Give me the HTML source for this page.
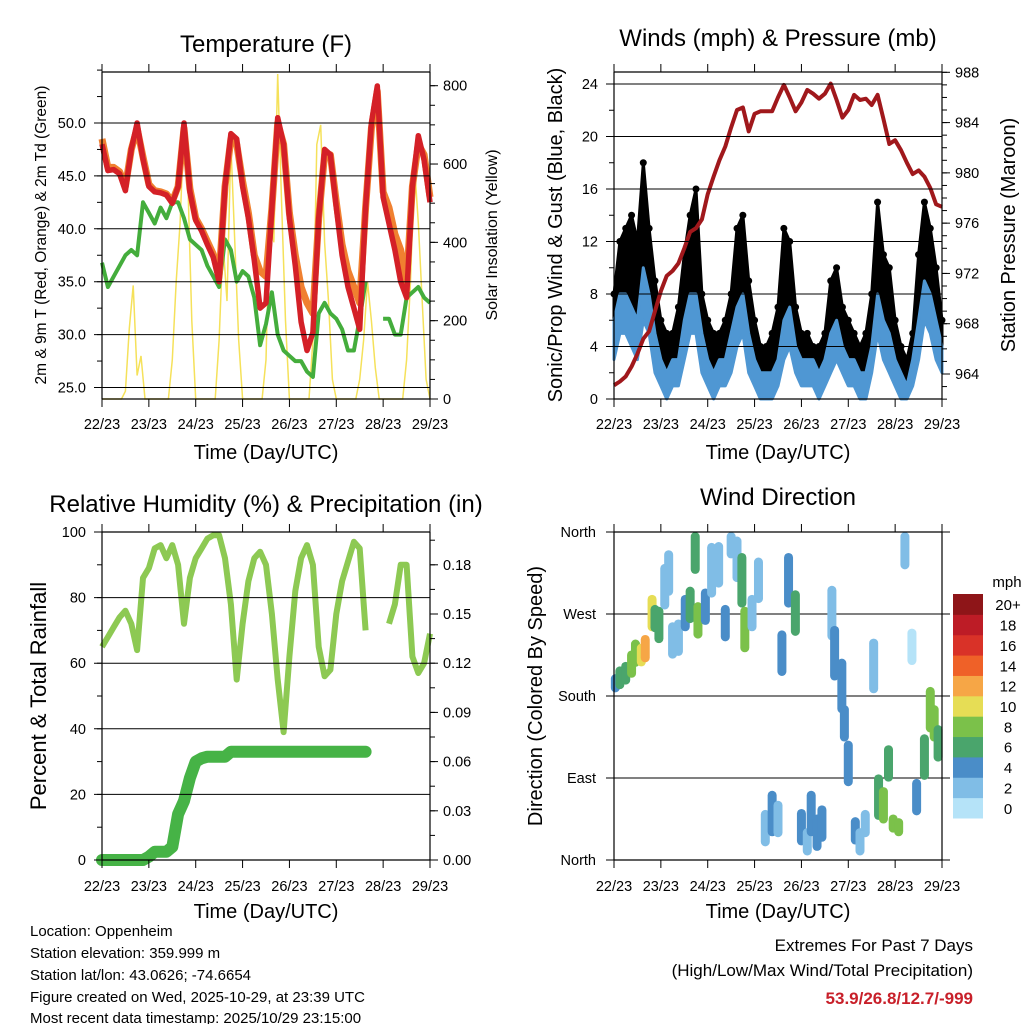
<!DOCTYPE html>
<html><head><meta charset="utf-8"><style>
html,body{margin:0;padding:0;background:#fff;}
svg{display:block;font-family:"Liberation Sans",Arial,sans-serif;}
</style></head><body>
<svg id="fig" width="1024" height="1024" viewBox="0 0 1024 1024" xmlns="http://www.w3.org/2000/svg">
<rect width="1024" height="1024" fill="#fff"/>
<text x="266" y="52" font-size="24" text-anchor="middle">Temperature (F)</text>
<text x="778" y="46" font-size="24" text-anchor="middle">Winds (mph) &amp; Pressure (mb)</text>
<text x="266" y="512" font-size="24" text-anchor="middle">Relative Humidity (%) &amp; Precipitation (in)</text>
<text x="778" y="505" font-size="24" text-anchor="middle">Wind Direction</text>
<text transform="translate(46,235) rotate(-90)" font-size="15.5" text-anchor="middle">2m &amp; 9m T (Red, Orange) &amp; 2m Td (Green)</text>
<text transform="translate(497,235) rotate(-90)" font-size="16" text-anchor="middle">Solar Insolation (Yellow)</text>
<text transform="translate(562,235) rotate(-90)" font-size="20" text-anchor="middle">Sonic/Prop Wind &amp; Gust (Blue, Black)</text>
<text transform="translate(1015,235) rotate(-90)" font-size="20" text-anchor="middle">Station Pressure (Maroon)</text>
<text transform="translate(46,696) rotate(-90)" font-size="22" text-anchor="middle">Percent &amp; Total Rainfall</text>
<text transform="translate(542,696) rotate(-90)" font-size="20" text-anchor="middle">Direction (Colored By Speed)</text>
<text x="266" y="459" font-size="20" text-anchor="middle">Time (Day/UTC)</text>
<text x="778" y="459" font-size="20" text-anchor="middle">Time (Day/UTC)</text>
<text x="266" y="918" font-size="20" text-anchor="middle">Time (Day/UTC)</text>
<text x="778" y="918" font-size="20" text-anchor="middle">Time (Day/UTC)</text>
<g font-size="15">
<text x="30" y="936">Location: Oppenheim</text>
<text x="30" y="958">Station elevation: 359.999 m</text>
<text x="30" y="980">Station lat/lon: 43.0626; -74.6654</text>
<text x="30" y="1002">Figure created on Wed, 2025-10-29, at 23:39 UTC</text>
<text x="30" y="1023">Most recent data timestamp: 2025/10/29 23:15:00</text>
</g>
<text x="973" y="951" font-size="17" text-anchor="end">Extremes For Past 7 Days</text>
<text x="973" y="976" font-size="17" text-anchor="end">(High/Low/Max Wind/Total Precipitation)</text>
<text x="973" y="1004" font-size="17" font-weight="bold" fill="#c8202a" text-anchor="end">53.9/26.8/12.7/-999</text>
</svg>
<script>
// ---- data (3-hourly unless stated; hours since 22/23) ----
var dayLabels = ["22/23","23/23","24/23","25/23","26/23","27/23","28/23","29/23"];
var hours3 = [0,3,6,9,12,15,18,21,24,27,30,33,36,39,42,45,48,51,54,57,60,63,66,69,72,75,78,81,84,87,90,93,96,99,102,105,108,111,114,117,120,123,126,129,132,135,138,141,144,147,150,153,156,159,162,165,168];
var temp2m = [48,45.5,45.6,45.2,43.6,47.5,50,46.6,44,43.5,43.4,43.2,42.4,44,50,43.5,40.8,39.8,38.5,37.3,35,44,49,48.5,44,41,37,32.5,33,42,50.5,48,41,36.5,31.2,28.5,30.2,41,47.5,47,42,37.5,34.5,32.5,30.5,42,50,53.5,43,40.5,38,35,33.5,44,48.8,46.5,42.5];
var temp9m = [48.5,45.8,45.8,45.4,44,47.5,49.5,46.8,44.2,43.6,43.5,43.3,42.6,44,49.5,43.8,41,40,38.8,37.6,35.5,44,48.5,48,44.5,41.5,37.5,36,35.5,42,50,48,41.5,37.5,34.5,33,32,41,47,47,42.5,38.5,36,34.5,33,42,49.5,53,43.5,42,39.5,38,35,44,48,47,43];
var dewpt = [36.8,34.5,35.5,36.5,37.5,38,37.5,42.5,41.5,40.5,42,41,42.5,42.5,41,39,38.5,38,36.5,35.5,34.5,39,38,35,36,35.5,33.5,29,31,34,30,28.5,28,27.5,27.5,26.5,26,32,33,32,31.5,30.5,28.5,28.5,31.5,35,null,null,31.5,31.5,30,30,33.5,34,34.5,33.5,33];
var hours2 = [0,2,4,6,8,10,12,14,16,18,20,22,24,26,28,30,32,34,36,38,40,42,44,46,48,50,52,54,56,58,60,62,64,66,68,70,72,74,76,78,80,82,84,86,88,90,92,94,96,98,100,102,104,106,108,110,112,114,116,118,120,122,124,126,128,130,132,134,136,138,140,142,144,146,148,150,152,154,156,158,160,162,164,166,168];
var solar = [0,0,0,0,0,0,20,180,290,60,110,0,0,0,0,0,0,0,100,300,450,700,550,200,0,0,0,0,0,0,150,400,250,650,400,150,0,0,0,0,0,0,100,500,400,830,500,200,0,0,0,0,0,0,150,650,700,400,250,50,0,0,0,0,0,0,50,150,300,200,80,0,0,0,0,0,0,0,100,300,600,450,250,50,0];
var windLow = [3,5,5,4,3,6,5,2,1,0,1,1,3,5,5,2,1,0,1,1,2,4,5,2,1,0,0,0,1,3,4,2,1,1,1,0,1,2,3,2,1,1,0,0,2,5,3,2,1,0,0,1,3,6,5,3,2];
var windSpeed = [6,8,8,7,6,10,8,5,3,2,3,3,6,8,8,5,3,2,3,3,5,7,8,5,3,2,2,2,3,6,7,4,3,3,3,2,3,5,6,4,3,3,2,2,4,8,6,5,3,2,1,3,6,9,8,6,4];
var windGust = [8,12,13,14,12,18,13,9,6,5,5,7,11,14,16,8,6,5,5,6,8,13,14,9,6,4,4,5,7,13,12,7,5,5,4,4,5,9,10,7,6,5,4,5,8,15,11,10,6,4,3,5,11,15,13,10,6];
var pressure = [963.1,963.4,963.8,964.6,965.6,966.8,967.4,969,970.6,971.8,972.2,972.8,974,975.3,975.6,976.3,978.3,979.7,981,982.1,983.6,985,985.2,983.3,984.7,984.9,984.9,984.9,986,987,986,984.9,985.6,986.6,986.3,985.9,986.3,987.1,985.8,984.4,985,986.2,985.8,985.9,985.4,986.2,984.3,982.3,982.6,981.8,980.8,979.9,980.2,979.7,978.8,977.5,977.3];
var rh = [65,68,71,74,76,72,64,86,89,95,96,92,96,90,72,86,92,95,98,99,99,92,78,55,72,85,92,94,90,75,55,39,62,82,92,96,90,65,56,58,75,85,91,97,95,70,null,null,null,72,78,90,90,62,57,60,69];
var precip = [0,0,0,0,0,0,0,0,0.002,0.005,0.005,0.005,0.008,0.028,0.036,0.05,0.06,0.062,0.063,0.063,0.063,0.063,0.066,0.066,0.066,0.066,0.066,0.066,0.066,0.066,0.066,0.066,0.066,0.066,0.066,0.066,0.066,0.066,0.066,0.066,0.066,0.066,0.066,0.066,0.066,0.066,null,null,null,null,null,null,null,null,null,null,null];
var dirHours = [0.7,3,6,9,11,14,16,19.5,21,23,26,28,30,33,36.5,39,41.6,43,46.8,50,53.6,57,60,63,65.5,67,70.7,74,77.5,81,84,86,89.4,92.9,96,99,101,104,106.5,111.6,113,116.7,118,120,123.6,126,128.7,133,135.5,138,140.6,143,145.8,149,152.6,155,159,162,164,166];
var dirDeg = [194,200,205,215,227,225,232,271,265,258,300,315,241,244,271,280,344,263,278,318,324,260,351,330,307,253,271,307,35,51,45,227,307,271,36,20,51,30,40,271,227,191,150,106,32,20,40,213,69,60,106,40,36,344,234,69,113,165,150,128];
var dirSpread = [20,25,25,30,30,25,30,40,30,40,50,50,40,40,40,40,60,40,40,60,50,40,40,50,60,50,40,50,40,50,40,50,60,50,40,30,50,40,40,60,60,60,40,50,30,30,30,60,50,40,40,20,20,50,40,40,50,50,40,40];
var dirSpeed = [4,7,7,8,8,10,12,10,6,6,2,2,2,2,4,6,6,8,4,2,2,4,2,2,6,8,2,2,2,4,2,4,4,6,4,2,4,4,4,2,4,4,4,4,4,2,2,2,6,8,6,8,8,2,0,4,6,8,8,6];
var cbLabels = ["0","2","4","6","8","10","12","14","16","18","20+"];
var cbColors = ["#b5e3f8","#80bde6","#4a8dc8","#4aa56c","#7bc14a","#e6dd55","#f6a646","#ef6128","#d93228","#bd1c26","#8e1518"];

var NS="http://www.w3.org/2000/svg", svg=document.getElementById('fig');
function mk(tag,attrs,parent){var e=document.createElementNS(NS,tag);for(var k in attrs)e.setAttribute(k,attrs[k]);(parent||svg).appendChild(e);return e;}
function lin(d0,d1,r0,r1){return function(v){return r0+(v-d0)/(d1-d0)*(r1-r0);};}
function pathFrom(xs,ys,fx,fy){var d="",pen=false;for(var i=0;i<xs.length;i++){if(ys[i]===null){pen=false;continue;}d+=(pen?"L":"M")+fx(xs[i]).toFixed(1)+","+fy(ys[i]).toFixed(1);pen=true;}return d;}
function bandFrom(xs,lo,hi,fx,fy){var d="";for(var i=0;i<xs.length;i++)d+=(i?"L":"M")+fx(xs[i]).toFixed(1)+","+fy(hi[i]).toFixed(1);for(var j=xs.length-1;j>=0;j--)d+="L"+fx(xs[j]).toFixed(1)+","+fy(lo[j]).toFixed(1);return d+"Z";}

function frame(g,x0,x1,y0,y1,sx,tickY){
  mk('line',{x1:x0,y1:y0,x2:x1,y2:y0,stroke:'#000','stroke-width':1.2},g);
  mk('line',{x1:x0,y1:y0,x2:x0,y2:y1,stroke:'#000','stroke-width':1.2},g);
  mk('line',{x1:x1,y1:y0,x2:x1,y2:y1,stroke:'#000','stroke-width':1.2},g);
  mk('line',{x1:x0,y1:y1,x2:x1,y2:y1,stroke:'#000','stroke-width':1.2},g);
  for(var i=0;i<dayLabels.length;i++){
    var x=sx(i*24);
    mk('line',{x1:x,y1:y0,x2:x,y2:y0-8,stroke:'#000','stroke-width':1},g);
    mk('line',{x1:x,y1:y1,x2:x,y2:y1+8,stroke:'#000','stroke-width':1},g);
    var t=mk('text',{x:x,y:tickY,'font-size':14.5,'text-anchor':'middle'},g);t.textContent=dayLabels[i];
    
    
  }
}
function leftTicks(g,x0,x1,vals,sy,fmt,grid,minor){
  minor.forEach(function(v){mk('line',{x1:x0,y1:sy(v),x2:x0-5,y2:sy(v),stroke:'#000'},g);});
  vals.forEach(function(v){var y=sy(v);
    if(grid)mk('line',{x1:x0-8,y1:y,x2:x1,y2:y,stroke:'#000','stroke-width':1},g);
    else mk('line',{x1:x0-8,y1:y,x2:x0,y2:y,stroke:'#000'},g);
    var t=mk('text',{x:x0-16,y:y+5,'font-size':14.5,'text-anchor':'end'},g);t.textContent=fmt(v);
    
    });
}
function rightTicks(g,x1,vals,sy,fmt,minor){
  minor.forEach(function(v){mk('line',{x1:x1,y1:sy(v),x2:x1+5,y2:sy(v),stroke:'#000'},g);});
  vals.forEach(function(v){var y=sy(v);mk('line',{x1:x1,y1:y,x2:x1+8,y2:y,stroke:'#000'},g);
    var t=mk('text',{x:x1+13,y:y+5,'font-size':14.5},g);t.textContent=fmt(v);
    
    });
}
function range(a,b,s){var r=[];for(var v=a;v<=b+1e-9;v+=s)r.push(+v.toFixed(4));return r;}

// ---- Panel 1: temperature ----
(function(){
  var g=mk('g',{});
  
  
  var sx=lin(0,168,102,430), sy=lin(50,25,123,387.5), ss=lin(0,800,399,85.7);
  var sol=mk('path',{d:pathFrom(hours2,solar,sx,ss),fill:'none',stroke:'#f5e15a','stroke-width':1.5},g);
  
  
  var gr=mk('path',{d:pathFrom(hours3,dewpt,sx,sy),fill:'none',stroke:'#44ad3c','stroke-width':4,'stroke-linejoin':'round'},g);
  
  
  var o=mk('path',{d:pathFrom(hours3,temp9m,sx,sy),fill:'none',stroke:'#f08030','stroke-width':7,'stroke-linejoin':'round'},g);
  
  
  var r=mk('path',{d:pathFrom(hours3,temp2m,sx,sy),fill:'none',stroke:'#d42027','stroke-width':5.5,'stroke-linejoin':'round'},g);
  
  
  leftTicks(g,102,430,[25,30,35,40,45,50],sy,function(v){return v.toFixed(1);},true,range(25,55,2.5));
  rightTicks(g,430,[0,200,400,600,800],ss,function(v){return ''+v;},range(0,825,50));
  frame(g,102,430,72,399,sx,429);
})();

// ---- Panel 2: winds & pressure ----
(function(){
  var g=mk('g',{});
  
  
  var sx=lin(0,168,614,942), sy=lin(0,24,399,84), sp=lin(964,988,374,72.3);
  var gb=mk('path',{d:bandFrom(hours3,windSpeed,windGust,sx,sy),fill:'#000',stroke:'#000','stroke-width':3,'stroke-linejoin':'round'},g);
  
  
  for(var i=0;i<hours3.length;i++){
    var c=mk('circle',{cx:sx(hours3[i]),cy:sy(windGust[i]),r:3.5,fill:'#000'},g);
    
    
  }
  var b=mk('path',{d:bandFrom(hours3,windLow,windSpeed,sx,sy),fill:'#4f97d3',stroke:'#4f97d3','stroke-width':3,'stroke-linejoin':'round'},g);
  
  
  var p=mk('path',{d:pathFrom(hours3,pressure,sx,sp),fill:'none',stroke:'#a0181c','stroke-width':4,'stroke-linejoin':'round'},g);
  
  
  mk('line',{x1:614,y1:72,x2:942,y2:72,stroke:'#000'},g);
  leftTicks(g,614,942,[0,4,8,12,16,20,24],sy,function(v){return ''+v;},true,range(0,24,2));
  rightTicks(g,942,[964,968,972,976,980,984,988],sp,function(v){return ''+v;},range(962,988,1));
  frame(g,614,942,72,399,sx,429);
})();

// ---- Panel 3: RH & precip ----
(function(){
  var g=mk('g',{});
  
  
  var sx=lin(0,168,102,430), sy=lin(0,100,860,532), sr=lin(0,0.2,860,532);
  var pr=mk('path',{d:pathFrom(hours3,precip,sx,sr),fill:'none',stroke:'#46b346','stroke-width':12,'stroke-linejoin':'round','stroke-linecap':'round'},g);
  
  
  var h=mk('path',{d:pathFrom(hours3,rh,sx,sy),fill:'none',stroke:'#8dc953','stroke-width':6,'stroke-linejoin':'round'},g);
  
  
  leftTicks(g,102,430,[0,20,40,60,80,100],sy,function(v){return ''+v;},true,range(0,100,10));
  rightTicks(g,430,[0,0.03,0.06,0.09,0.12,0.15,0.18],sr,function(v){return v.toFixed(2);},range(0,0.2,0.015));
  frame(g,102,430,532,860,sx,891);
})();

// ---- Panel 4: wind direction ----
(function(){
  var g=mk('g',{});
  
  
  var sx=lin(0,168,614,942), sy=lin(0,360,860,532);
  var names=["North","East","South","West","North"];
  [0,90,180,270,360].forEach(function(v,i){var y=sy(v);
    mk('line',{x1:606,y1:y,x2:950,y2:y,stroke:'#000'},g);
    var t=mk('text',{x:596,y:y+5,'font-size':14.5,'text-anchor':'end'},g);t.textContent=names[i];
    
    });
  function col(s){var k=Math.min(10,Math.max(0,Math.floor(s/2)));return cbColors[k];}
  for(var i=0;i<dirHours.length;i++){
    var top=Math.min(360,dirDeg[i]+dirSpread[i]/2), bot=Math.max(0,dirDeg[i]-dirSpread[i]/2);
    var y0=sy(top), y1=sy(bot);
    var c=mk('rect',{x:sx(dirHours[i])-4.5,y:y0,width:9,height:Math.max(9,y1-y0),rx:4.5,fill:col(dirSpeed[i])},g);
    
    
  }
  frame(g,614,942,532,860,sx,891);
  var cb=mk('g',{});
  
  
  var h=(818-594)/cbColors.length;
  for(var k=0;k<cbColors.length;k++){
    var y=818-(k+1)*h;
    var r=mk('rect',{x:953,y:y,width:30,height:h+0.5,fill:cbColors[k]},cb);
    
    
    var t=mk('text',{x:1008,y:y+h/2+6,'font-size':15,'text-anchor':'middle'},cb);t.textContent=cbLabels[k];
    
    
  }
  var m=mk('text',{x:1007,y:587,'font-size':15,'text-anchor':'middle'},cb);m.textContent='mph';
  
  
})();
</script>
</body></html>
